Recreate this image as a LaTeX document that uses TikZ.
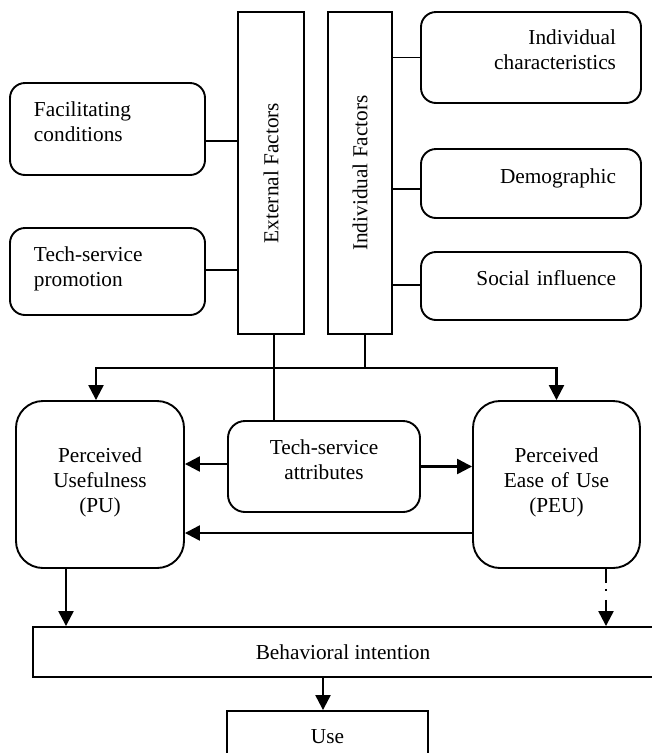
\documentclass[tikz,border=0pt]{standalone}
\usepackage{fontspec}
\setmainfont{Liberation Serif}
\usepackage{graphicx}
\usetikzlibrary{arrows.meta}
\begin{document}
\begin{tikzpicture}[x=1pt,y=-1pt,
  font=\fontsize{21.3}{25}\selectfont,
  box/.style={draw,line width=1.9pt,inner sep=0pt,rounded corners=15pt},
  bigbox/.style={box,rounded corners=27pt,align=center},
  bar/.style={draw,line width=1.9pt,inner sep=0pt},
  link/.style={line width=1.9pt},
  thinlink/.style={line width=1.5pt},
  arr/.style={line width=2.3pt,-{Triangle[length=15pt,width=15pt]}},
  dasharr/.style={arr,dash pattern=on 14pt off 6pt on 2pt off 9pt},
]
\useasboundingbox (0,0) rectangle (652,753);
\clip (0,0) rectangle (652,753);

% vertical bars
\node[bar,minimum width=66pt,minimum height=322pt] (ext) at (271,173) {\rotatebox{90}{External Factors}};
\node[bar,minimum width=64pt,minimum height=322pt] (ind) at (360,173) {\rotatebox{90}{Individual Factors}};

% left boxes
\node[box,minimum width=195pt,minimum height=92pt,text width=147pt,align=left,text depth=39.5pt] (fc) at (107.5,129) {Facilitating\\conditions};
\node[box,minimum width=195pt,minimum height=87pt,text width=147pt,align=left,text depth=34.5pt] (tsp) at (107.5,271.5) {Tech-service\\promotion};

% right boxes
\node[box,minimum width=220pt,minimum height=91pt,text width=170pt,align=right,text depth=40.5pt] (ic) at (531,57.5) {Individual\\characteristics};
\node[box,minimum width=220pt,minimum height=69pt,text width=170pt,align=right,text depth=15pt] (dem) at (531,183.5) {Demographic};
\node[box,minimum width=220pt,minimum height=68pt,text width=170pt,align=right,text depth=16pt] (si) at (531,286) {Social influence};

% middle row
\node[bigbox,minimum width=168pt,minimum height=167pt,text width=150pt,text depth=58pt] (pu) at (100,484.5) {Perceived\\Usefulness\\(PU)};
\node[box,rounded corners=17pt,minimum width=192pt,minimum height=91pt,text width=170pt,align=center,text depth=38.5pt] (tsa) at (324,466.5) {Tech-service\\attributes};
\node[bigbox,minimum width=167pt,minimum height=167pt,text width=150pt,text depth=58pt] (peu) at (556.5,484.5) {Perceived\\Ease of Use\\(PEU)};

% bottom
\node[bar,minimum width=620pt,minimum height=50pt] (bi) at (343,652) {Behavioral intention};
\node[bar,minimum width=201pt,minimum height=51pt] (use) at (327.5,736.5) {Use};

% connectors to bars
\draw[link] ([yshift=-12pt]fc.east) -- ([yshift=-12pt]fc.east -| ext.west);
\draw[link] ([yshift=1.5pt]tsp.east) -- ([yshift=1.5pt]tsp.east -| ext.west);
\draw[link] (ic.west) -- (ic.west -| ind.east);
\draw[link] ([yshift=-5.5pt]dem.west) -- ([yshift=-5.5pt]dem.west -| ind.east);
\draw[link] ([yshift=1pt]si.west) -- ([yshift=1pt]si.west -| ind.east);

% external factors to tech-service attributes
\draw[thinlink] ([xshift=3pt]ext.south) -- ([xshift=3pt]ext.south |- tsa.north);

% individual factors split
\coordinate (j) at (365,368);
\draw[link] ([xshift=5pt]ind.south) -- (j);
\draw[arr] (j) -| ([xshift=-4pt]pu.north);
\draw[arr] (j) -| (peu.north);

% middle arrows
\draw[arr] ([yshift=2.5pt]tsa.west) -- ([yshift=2.5pt]tsa.west -| pu.east);
\draw[arr] (tsa.east) -- (tsa.east -| peu.west);
\draw[arr] ([yshift=-48.5pt]peu.west) -- ([yshift=-48.5pt]peu.west -| pu.east);

% to behavioral intention
\draw[arr] ([xshift=-34pt]pu.south) -- ([xshift=-34pt]pu.south |- bi.north);
\draw[dasharr] ([xshift=49.5pt]peu.south) -- ([xshift=49.5pt]peu.south |- bi.north);
\draw[arr] ([xshift=-20pt]bi.south) -- ([xshift=-20pt]bi.south |- use.north);
\end{tikzpicture}
\end{document}
